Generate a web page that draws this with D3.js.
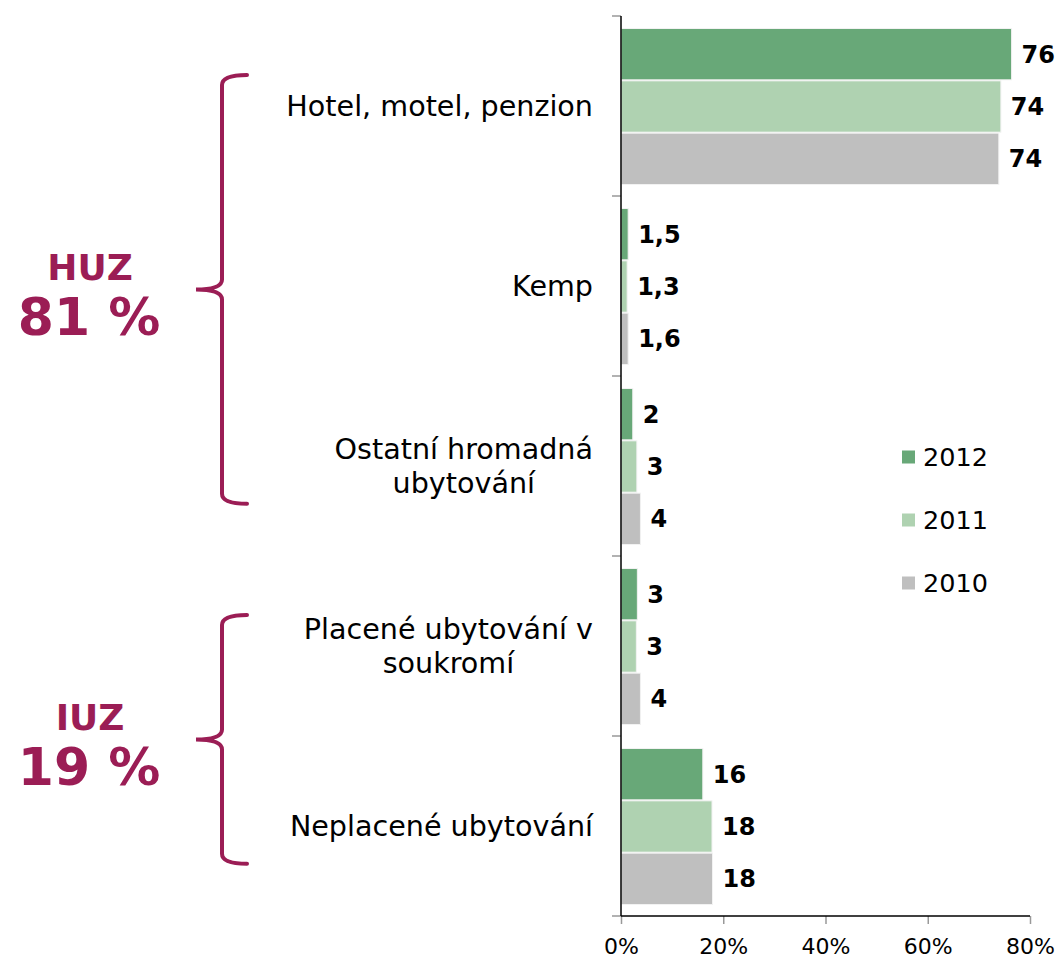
<!DOCTYPE html>
<html lang="cs">
<head>
  <meta charset="UTF-8">
  <script src="https://d3js.org/d3.v7.min.js"></script>
  <title>Ubytování</title>
  <style>
    body { margin: 0; background: #fff; }
    svg { font-family: "DejaVu Sans", Verdana, sans-serif; }
  </style>
</head>
<body>
<div id="chart"></div>
<script>

// categories (one array of lines per label)
var categories = [
  ["Hotel, motel, penzion"],
  ["Kemp"],
  ["Ostatní hromadná", "ubytování"],
  ["Placené ubytování v", "soukromí"],
  ["Neplacené ubytování"]
];
var years = ["2012", "2011", "2010"];

// values (%)
var v2012 = [76.4, 1.4, 2.3, 3.2, 16.0];
var v2011 = [74.3, 1.2, 3.1, 3.0, 17.8];
var v2010 = [73.9, 1.4, 3.8, 3.8, 17.9];

// printed data labels
var l2012 = ["76", "1,5", "2", "3", "16"];
var l2011 = ["74", "1,3", "3", "3", "18"];
var l2010 = ["74", "1,6", "4", "4", "18"];

var xTicks = [0, 20, 40, 60, 80];

// brace groups
var groupNames  = ["HUZ", "IUZ"];
var groupShares = ["81 %", "19 %"];
var groupFirst  = [0, 3];
var groupLast   = [2, 4];

var colors = ["#68a878", "#afd2b1", "#bfbfbf"];
var accent = "#9b1d55";

var margin = {top: 16, right: 30, bottom: 42, left: 621},
    width = 1030 - margin.left,
    height = 916 - margin.top;

var svg = d3.select("#chart")
  .append("svg")
    .attr("width", 1060)
    .attr("height", 958);

var g = svg.append("g")
    .attr("transform", "translate(" + margin.left + "," + margin.top + ")");

var x = d3.scaleLinear().domain([0, 80]).range([0, width]);

var y = d3.scaleBand()
  .domain(d3.range(categories.length))
  .range([0, height])
  .padding(0);

var yInner = d3.scaleBand()
  .domain(years)
  .range([12, y.bandwidth() - 11])
  .padding(0);

var series = [v2012, v2011, v2010];
var labels = [l2012, l2011, l2010];

var rows = [];
categories.forEach(function(c, i) {
  years.forEach(function(yr, k) {
    rows.push({cat: i, year: yr, k: k, value: series[k][i], label: labels[k][i]});
  });
});

// bars
g.selectAll("rect.bar")
  .data(rows)
  .enter().append("rect")
    .attr("class", "bar")
    .attr("x", x(0))
    .attr("y", function(d) { return y(d.cat) + yInner(d.year) + 0.5; })
    .attr("width", function(d) { return x(d.value) - x(0); })
    .attr("height", yInner.bandwidth() - 1)
    .attr("fill", function(d) { return colors[d.k]; })
    .attr("stroke", "#f2f2f2")
    .attr("stroke-width", 1);

// value labels
g.selectAll("text.val")
  .data(rows)
  .enter().append("text")
    .attr("class", "val")
    .attr("x", function(d) { return x(d.value) + 10; })
    .attr("y", function(d) { return y(d.cat) + yInner(d.year) + yInner.bandwidth() / 2; })
    .attr("dy", "0.35em")
    .style("font-size", "24px")
    .style("font-weight", "bold")
    .attr("fill", "#000")
    .text(function(d) { return d.label; });

// y axis: line plus ticks at band edges
var yEdges = d3.range(categories.length + 1).map(function(i) { return i * y.step(); });
g.selectAll("line.ytick")
  .data(yEdges)
  .enter().append("line")
    .attr("x1", -9).attr("x2", 0)
    .attr("y1", function(d) { return d; })
    .attr("y2", function(d) { return d; })
    .attr("stroke", "#999")
    .attr("stroke-width", 1.5);
g.append("line")
  .attr("x1", 0).attr("x2", 0)
  .attr("y1", 0).attr("y2", height)
  .attr("stroke", "#000")
  .attr("stroke-width", 1.5);

// category labels
var catSize = "28.6px";
var catText = g.selectAll("text.cat")
  .data(categories)
  .enter().append("text")
    .attr("class", "cat")
    .attr("text-anchor", "middle")
    .style("font-size", catSize)
    .attr("fill", "#000");

catText.each(function(lines, i) {
  var t = d3.select(this);
  // measure widest line so the block is right aligned, lines centred
  var tmp = g.append("text").style("font-size", catSize);
  var w = d3.max(lines, function(l) { tmp.text(l); return tmp.node().getComputedTextLength(); });
  tmp.remove();
  var cx = -28 - w / 2;
  var cy = y(i) + y.bandwidth() / 2;
  lines.forEach(function(l, j) {
    t.append("tspan")
      .attr("x", cx)
      .attr("y", cy + (j - (lines.length - 1) / 2) * 34)
      .attr("dy", "0.35em")
      .text(l);
  });
});

// x axis
var xAxis = g.append("g")
  .attr("transform", "translate(0," + height + ")")
  .call(d3.axisBottom(x).tickValues(xTicks).tickSize(8).tickPadding(14)
    .tickFormat(function(d) { return d + "%"; }));
xAxis.select(".domain").remove();
xAxis.selectAll(".tick line").attr("stroke", "#999").attr("stroke-width", 1.5);
xAxis.selectAll(".tick text")
  .style("font-size", "22px")
  .style("font-family", "'DejaVu Sans', Verdana, sans-serif")
  .attr("fill", "#000");
xAxis.append("line")
  .attr("x1", 0).attr("x2", width)
  .attr("y1", 0).attr("y2", 0)
  .attr("stroke", "#000")
  .attr("stroke-width", 1.5);

// legend
var legend = svg.append("g").attr("transform", "translate(902,457)");
years.forEach(function(yr, k) {
  var row = legend.append("g").attr("transform", "translate(0," + k * 63 + ")");
  row.append("rect")
    .attr("x", 0).attr("y", -6.5)
    .attr("width", 13).attr("height", 13)
    .attr("fill", colors[k]);
  row.append("text")
    .attr("x", 21).attr("y", 0)
    .attr("dy", "0.35em")
    .style("font-size", "25.5px")
    .attr("fill", "#000")
    .text(yr);
});

// braces with group shares
groupNames.forEach(function(name, i) {
  var top = margin.top + y(groupFirst[i]) + 59;
  var bot = margin.top + y(groupLast[i]) + y.bandwidth() * 0.71;
  var mid = (top + bot) / 2;
  var xv = 222, xe = 247, xt = 196;
  var p = d3.path();
  p.moveTo(xe, top);
  p.quadraticCurveTo(xv, top, xv, top + 10);
  p.lineTo(xv, mid - 10);
  p.quadraticCurveTo(xv, mid, xt, mid);
  p.quadraticCurveTo(xv, mid, xv, mid + 10);
  p.lineTo(xv, bot - 10);
  p.quadraticCurveTo(xv, bot, xe, bot);
  svg.append("path")
    .attr("d", p.toString())
    .attr("fill", "none")
    .attr("stroke", accent)
    .attr("stroke-width", 4)
    .attr("stroke-linecap", "round");

  svg.append("text")
    .attr("x", 90).attr("y", mid - 9)
    .attr("text-anchor", "middle")
    .style("font-size", "36px")
    .style("font-weight", "bold")
    .attr("fill", accent)
    .text(name);
  svg.append("text")
    .attr("x", 89).attr("y", mid + 46)
    .attr("text-anchor", "middle")
    .style("font-size", "52px")
    .style("font-weight", "bold")
    .attr("fill", accent)
    .text(groupShares[i]);
});

</script>
</body>
</html>
